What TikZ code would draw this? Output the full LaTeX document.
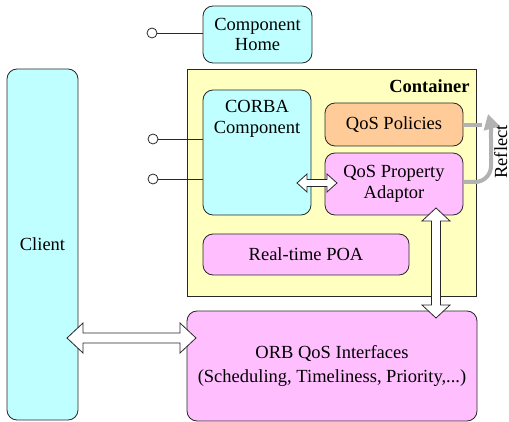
\documentclass[tikz,border=0pt]{standalone}
\usepackage{fontspec}
\IfFontExistsTF{LiberationSerif-Regular.ttf}{%
  \setmainfont{LiberationSerif-Regular.ttf}[BoldFont=LiberationSerif-Bold.ttf]}{%
  \setmainfont{Liberation Serif}}
\usetikzlibrary{calc,arrows.meta}
\definecolor{cyanfill}{RGB}{191,255,255}
\definecolor{yellowfill}{RGB}{255,255,191}
\definecolor{pinkfill}{RGB}{255,191,255}
\definecolor{orangefill}{RGB}{255,204,153}
\definecolor{edge}{RGB}{40,40,40}
\definecolor{reflectgray}{RGB}{178,178,178}
\newcommand\hdarrow[5]{%
 \draw[blockarrow] (#1) -- ($(#1)+(#5,#4)$) -- ($(#1)+(#5,#3)$) -- ($(#2)+(-#5,#3)$) -- ($(#2)+(-#5,#4)$) -- (#2) -- ($(#2)+(-#5,-#4)$) -- ($(#2)+(-#5,-#3)$) -- ($(#1)+(#5,-#3)$) -- ($(#1)+(#5,-#4)$) -- cycle;}
\newcommand\vdarrow[5]{%
 \draw[blockarrow] (#1) -- ($(#1)+(#4,#5)$) -- ($(#1)+(#3,#5)$) -- ($(#2)+(#3,-#5)$) -- ($(#2)+(#4,-#5)$) -- (#2) -- ($(#2)+(-#4,-#5)$) -- ($(#2)+(-#3,-#5)$) -- ($(#1)+(-#3,#5)$) -- ($(#1)+(-#4,#5)$) -- cycle;}
\begin{document}
\begin{tikzpicture}[x=1pt,y=-1pt,
  font=\fontsize{18.5}{20.5}\selectfont,
  box/.style={draw=edge, line width=0.8pt, rounded corners=10pt, inner sep=0pt, align=center},
  plainbox/.style={draw=edge, line width=0.8pt, inner sep=0pt},
  port/.style={circle, draw=edge, line width=0.8pt, fill=white, minimum size=10pt, inner sep=0pt},
  wire/.style={draw=edge, line width=0.8pt},
  blockarrow/.style={draw=edge, line width=0.8pt, fill=white, line join=miter},
  reflectline/.style={draw=reflectgray, line width=4pt}]
\useasboundingbox (0,0) rectangle (509,422);
% container
\node[plainbox, fill=yellowfill, minimum width=289pt, minimum height=227pt] (container) at (331.5,182.5) {};
\node[anchor=base east, font=\fontsize{18.5}{20.5}\selectfont\bfseries] (containerlabel) at (473,93) {Container};
% boxes
\node[box, fill=cyanfill, minimum width=109pt, minimum height=57pt] (home) at (257.5,34.5) {Component\\Home};
\node[box, fill=cyanfill, minimum width=108pt, minimum height=125pt] (corba) at (257,152.5) {};
\node[align=center, anchor=north] (corbalabel) at (257,97) {CORBA\\Component};
\node[box, fill=orangefill, minimum width=138pt, minimum height=43pt] (policies) at (394,124.5) {QoS Policies};
\node[box, fill=pinkfill, minimum width=138pt, minimum height=62pt] (adapt) at (394,184) {QoS Property\\Adaptor};
\node[box, fill=pinkfill, minimum width=206pt, minimum height=41pt] (poa) at (306,254.5) {Real-time POA};
\node[box, fill=pinkfill, minimum width=290pt, minimum height=110pt] (orb) at (332,366) {ORB QoS Interfaces\\[3.5pt](Scheduling, Timeliness, Priority,...)};
\node[box, fill=cyanfill, minimum width=71pt, minimum height=351pt] (client) at (42.5,244.5) {Client};
% ports
\node[port] (p0) at (152,33) {};
\node[port] (p1) at (153,139) {};
\node[port] (p2) at (153,179) {};
\draw[wire] (p0.east) -- (home.west |- p0);
\draw[wire] (p1.east) -- (corba.west |- p1);
\draw[wire] (p2.east) -- (corba.west |- p2);
% block arrows
\coordinate (ca) at (67,338);
\coordinate (cb) at (196,338);
\hdarrow{ca}{cb}{5}{15}{16}
\coordinate (aa) at (297,183);
\coordinate (ab) at (337,183);
\hdarrow{aa}{ab}{3.5}{9}{10}
\coordinate (va) at (436,208);
\coordinate (vb) at (436,318);
\vdarrow{va}{vb}{4.5}{14}{13}
% reflect
\coordinate (rtop) at (488,114);
\draw[reflectline] (policies.east |- 0,125) -- (482,125);
\draw[reflectline, -{Triangle[length=15pt,width=16pt]}] (adapt.east |- 0,182) -- (475,182) to[out=0,in=-90] (491,166) -- (491,142) to[out=90,in=-75] (rtop);
\node[rotate=90, anchor=base, inner sep=0pt] (reflect) at (507,152) {Reflect};
\end{tikzpicture}
\end{document}
